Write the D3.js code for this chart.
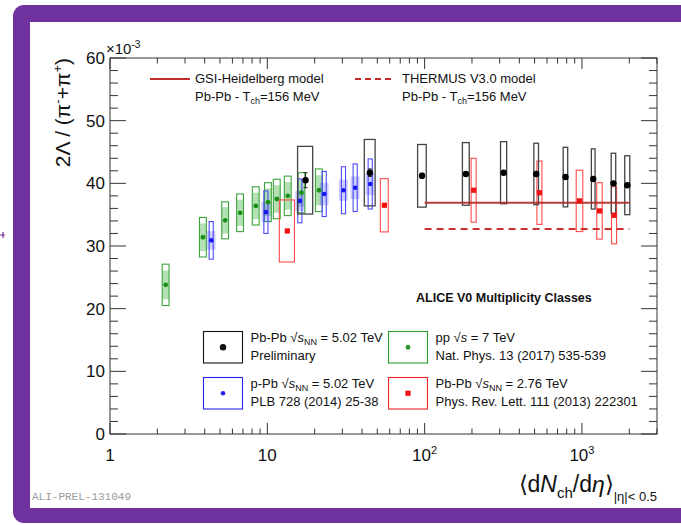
<!DOCTYPE html>
<html lang="en">
<head>
<meta charset="UTF-8">
<title>Lambda / pi ratio vs multiplicity</title>
<style>
  body { margin: 0; padding: 0; background: #fff; }
  svg { display: block; font-family: 'Liberation Sans', Arial, Helvetica, sans-serif; }
</style>
</head>
<body>
<svg id="chart" width="681" height="525"></svg>
<script src="https://d3js.org/d3.v7.min.js"></script>
<script>
// --- data (ratio values in units of 10^-3) ---
// pp 7 TeV, Nat. Phys. 13 (2017) 535
const ppX = [2.26, 3.90, 5.40, 6.72, 8.45, 10.1, 11.5, 13.5, 16.5, 21.3];
const ppY = [23.8, 31.4, 34.1, 35.3, 36.4, 37.0, 37.5, 38.0, 38.5, 38.9];
const ppSys = [3.3, 3.15, 2.95, 3.0, 3.05, 3.1, 3.15, 3.15, 3.2, 3.4];
const ppUnc = [2.3, 2.2, 2.1, 2.1, 2.1, 2.2, 2.2, 2.2, 2.2, 2.4];

// p-Pb 5.02 TeV, PLB 728 (2014) 25
const pPbX = [4.40, 9.80, 16.1, 23.0, 30.5, 36.2, 45.1];
const pPbY = [30.9, 35.4, 37.2, 38.3, 38.9, 39.3, 39.9];
const pPbSys = [3.0, 3.4, 3.5, 3.6, 3.75, 3.8, 4.0];
const pPbUnc = [1.5, 1.6, 1.6, 1.8, 1.7, 1.8, 1.8];

// Pb-Pb 2.76 TeV, PRL 111 (2013) 222301
const pb276X = [13.4, 55.5, 205, 537, 966, 1294, 1601];
const pb276Y = [32.4, 36.5, 38.9, 38.5, 37.2, 35.6, 34.9];
const pb276Sys = [4.95, 4.25, 5.1, 5.05, 4.9, 4.5, 4.55];
const pb276XErr = [0.11, 0.058, 0.037, 0.037, 0.048, 0.04, 0.037];

// Pb-Pb 5.02 TeV preliminary
const pb502X = [17.5, 44.9, 96.3, 183, 318, 512, 786, 1180, 1587, 1943];
const pb502Y = [40.5, 41.7, 41.2, 41.5, 41.7, 41.5, 41.0, 40.7, 40.0, 39.7];
const pb502Sys = [5.4, 5.3, 5.0, 5.0, 4.95, 4.9, 4.75, 4.8, 4.8, 4.7];
const pb502Stat = [1.2, 0.6, 0.4, 0.3, 0.3, 0.3, 0.3, 0.3, 0.3, 0.3];
const pb502XErr = [0.11, 0.079, 0.063, 0.05, 0.045, 0.034, 0.033, 0.027, 0.033, 0.037];

// thermal model values, Pb-Pb T_ch = 156 MeV
const modelRange = [100, 2000];
const gsiValue = 36.9;
const thermusValue = 32.7;

// axis ticks
const xMajor = [1, 10, 100, 1000];
const yMajor = [0, 10, 20, 30, 40, 50, 60];

const svg = d3.select("#chart");

// purple slide frame
svg.append("rect").attr("x", 13).attr("y", 5).attr("width", 700).attr("height", 518)
    .attr("rx", 11).attr("fill", "#70329e");
svg.append("rect").attr("x", 30).attr("y", 22).attr("width", 700).attr("height", 486)
    .attr("fill", "#fff");
svg.append("path").attr("d", "M0,235 L5,235 M3,232 L3,238")
    .attr("stroke", "#70329e").attr("stroke-width", 1.2);

const x = d3.scaleLog().domain([1, 3000]).range([110, 657]);
const y = d3.scaleLinear().domain([0, 60]).range([434, 58]);

const x0 = x.range()[0], x1 = x.range()[1];
const y0 = y.range()[0], y1 = y.range()[1];

// ticks (ROOT style: inside, mirrored on all four sides)
const xMinor = [];
[1, 10, 100, 1000].forEach(d => {
    for (let k = 2; k <= 9; k++) if (d * k <= 3000) xMinor.push(d * k);
});
const yMinor = d3.range(0, 61, 2).filter(v => v % 10 !== 0);

const tickG = svg.append("g").attr("stroke", "#333").attr("stroke-width", 1);
function xTicks(vals, len) {
    vals.forEach(v => {
        tickG.append("line").attr("x1", x(v)).attr("x2", x(v)).attr("y1", y0).attr("y2", y0 - len);
        tickG.append("line").attr("x1", x(v)).attr("x2", x(v)).attr("y1", y1).attr("y2", y1 + len);
    });
}
function yTicks(vals, len) {
    vals.forEach(v => {
        tickG.append("line").attr("x1", x0).attr("x2", x0 + len).attr("y1", y(v)).attr("y2", y(v));
        tickG.append("line").attr("x1", x1).attr("x2", x1 - len).attr("y1", y(v)).attr("y2", y(v));
    });
}
xTicks(xMajor, 11);
xTicks(xMinor, 5.5);
yTicks(yMajor, 16);
yTicks(yMinor, 8);

svg.append("rect").attr("x", x0).attr("y", y1).attr("width", x1 - x0).attr("height", y0 - y1)
    .attr("fill", "none").attr("stroke", "#333").attr("stroke-width", 1);

// tick labels
svg.append("g").selectAll("text").data(yMajor).join("text")
    .attr("x", x0 - 5).attr("y", d => y(d)).attr("dy", "0.36em")
    .attr("text-anchor", "end").attr("font-size", 17).attr("fill", "#111")
    .text(d => d);

const xl = svg.append("g").selectAll("text").data(xMajor).join("text")
    .attr("x", d => x(d)).attr("y", y0 + 27)
    .attr("text-anchor", "middle").attr("font-size", 17).attr("fill", "#111");
xl.each(function(d) {
    const t = d3.select(this);
    if (d < 100) { t.text(d); return; }
    t.append("tspan").text("10");
    t.append("tspan").attr("font-size", 11).attr("dy", -7).text(Math.round(Math.log10(d)));
});

const ex = svg.append("text").attr("x", 106).attr("y", 54).attr("font-size", 15).attr("fill", "#111");
ex.append("tspan").text("\u00d710");
ex.append("tspan").attr("font-size", 10).attr("dy", -6).text("-3");

// axis titles
const yt = svg.append("text").attr("transform", "translate(70,58) rotate(-90)")
    .attr("text-anchor", "end").attr("font-size", 21).attr("fill", "#111");
yt.append("tspan").text("2\u039b / (\u03c0");
yt.append("tspan").attr("font-size", 13).attr("dy", -8).text("-");
yt.append("tspan").attr("dy", 8).text("+\u03c0");
yt.append("tspan").attr("font-size", 13).attr("dy", -8).text("+");
yt.append("tspan").attr("dy", 8).text(")");

const xt = svg.append("text").attr("x", x1).attr("y", 492)
    .attr("text-anchor", "end").attr("font-size", 23).attr("fill", "#111");
xt.append("tspan").text("\u27e8d");
xt.append("tspan").attr("font-style", "italic").text("N");
xt.append("tspan").attr("font-size", 15).attr("dy", 6).text("ch");
xt.append("tspan").attr("dy", -6).text("/d");
xt.append("tspan").attr("font-style", "italic").text("\u03b7");
xt.append("tspan").text("\u27e9");
xt.append("tspan").attr("font-size", 13).attr("dy", 9).text("|\u03b7|< 0.5");

// systematic boxes
const plot = svg.append("g");
function boxes(xs, ys, sys, relW, opts) {
    plot.append("g").selectAll("rect").data(xs).join("rect")
        .attr("x", (d, i) => x(d * (1 - (Array.isArray(relW) ? relW[i] : relW))))
        .attr("width", (d, i) => {
            const e = Array.isArray(relW) ? relW[i] : relW;
            return x(d * (1 + e)) - x(d * (1 - e));
        })
        .attr("y", (d, i) => y(ys[i] + sys[i]))
        .attr("height", (d, i) => y(ys[i] - sys[i]) - y(ys[i] + sys[i]))
        .attr("fill", opts.fill || "none")
        .attr("stroke", opts.stroke || "none")
        .attr("stroke-width", opts.sw || 1);
}

// pp
boxes(ppX, ppY, ppUnc, 0.05, { fill: "rgba(40,170,40,0.35)" });
boxes(ppX, ppY, ppSys, 0.05, { stroke: "#3aa53a", sw: 1.1 });
// p-Pb
boxes(pPbX, pPbY, pPbUnc, 0.065, { fill: "rgba(90,90,255,0.3)" });
boxes(pPbX, pPbY, pPbSys, 0.03, { stroke: "#4a4aff", sw: 1.1 });
// Pb-Pb 2.76
boxes(pb276X, pb276Y, pb276Sys, pb276XErr, { stroke: "#ff4a4a", sw: 1.1 });
// Pb-Pb 5.02
boxes(pb502X, pb502Y, pb502Sys, pb502XErr, { stroke: "#444", sw: 1.3 });

// model lines
plot.append("line").attr("x1", x(modelRange[0])).attr("x2", x(modelRange[1]))
    .attr("y1", y(gsiValue)).attr("y2", y(gsiValue))
    .attr("stroke", "#b22a2a").attr("stroke-width", 2).attr("opacity", 0.9);
plot.append("line").attr("x1", x(modelRange[0])).attr("x2", x(modelRange[1]))
    .attr("y1", y(thermusValue)).attr("y2", y(thermusValue))
    .attr("stroke", "#d03030").attr("stroke-width", 2).attr("stroke-dasharray", "7,5");

// stat error bars for Pb-Pb 5.02
plot.append("g").selectAll("path").data(pb502X).join("path")
    .attr("d", (d, i) => {
        const cx = x(d), ta = y(pb502Y[i] + pb502Stat[i]), tb = y(pb502Y[i] - pb502Stat[i]);
        return `M${cx},${ta}V${tb}M${cx - 2},${ta}H${cx + 2}M${cx - 2},${tb}H${cx + 2}`;
    })
    .attr("stroke", "#222").attr("stroke-width", 1).attr("fill", "none");

// markers
plot.append("g").selectAll("circle").data(ppX).join("circle")
    .attr("cx", d => x(d)).attr("cy", (d, i) => y(ppY[i])).attr("r", 2.4).attr("fill", "#1a8f1a");
plot.append("g").selectAll("circle").data(pPbX).join("circle")
    .attr("cx", d => x(d)).attr("cy", (d, i) => y(pPbY[i])).attr("r", 2.3).attr("fill", "#1515f0");
plot.append("g").selectAll("rect").data(pb276X).join("rect")
    .attr("x", d => x(d) - 2.6).attr("y", (d, i) => y(pb276Y[i]) - 2.6)
    .attr("width", 5.2).attr("height", 5.2).attr("fill", "#ee1111");
plot.append("g").selectAll("circle").data(pb502X).join("circle")
    .attr("cx", d => x(d)).attr("cy", (d, i) => y(pb502Y[i])).attr("r", 3.2).attr("fill", "#000");

// model legend
function modelLegend(lx, tx, dash, title) {
    svg.append("line").attr("x1", lx).attr("x2", lx + 40).attr("y1", 79).attr("y2", 79)
        .attr("stroke", "#c02c2c").attr("stroke-width", 2).attr("stroke-dasharray", dash);
    svg.append("text").attr("x", tx).attr("y", 83).attr("font-size", 13).attr("fill", "#111").text(title);
    const t = svg.append("text").attr("x", tx).attr("y", 101).attr("font-size", 13).attr("fill", "#111");
    t.append("tspan").text("Pb-Pb - T");
    t.append("tspan").attr("font-size", 9).attr("dy", 3).text("ch");
    t.append("tspan").attr("dy", -3).text("=156 MeV");
}
modelLegend(150, 195, null, "GSI-Heidelberg model");
modelLegend(355, 402, "6,4", "THERMUS V3.0 model");

svg.append("text").attr("x", 416).attr("y", 302).attr("font-size", 12.5)
    .attr("font-weight", "bold").attr("fill", "#111").text("ALICE V0 Multiplicity Classes");

// data legend
function sqrtS(t, pre, nn, post) {
    t.append("tspan").text(pre + " \u221a");
    t.append("tspan").attr("font-style", "italic").text("s");
    if (nn) t.append("tspan").attr("font-size", 9).attr("dy", 3).text("NN");
    t.append("tspan").attr("dy", nn ? -3 : 0).text(post);
}
function legendEntry(bx, by, color, marker, l1, l2) {
    svg.append("rect").attr("x", bx).attr("y", by).attr("width", 39).attr("height", 31.5)
        .attr("fill", "none").attr("stroke", color).attr("stroke-width", 1.1);
    const cx = bx + 19.5, cy = by + 15.75;
    if (marker === "square") {
        svg.append("rect").attr("x", cx - 2.6).attr("y", cy - 2.6).attr("width", 5.2).attr("height", 5.2).attr("fill", "#ee1111");
    } else {
        svg.append("circle").attr("cx", cx).attr("cy", cy).attr("r", marker).attr("fill", color);
    }
    const t1 = svg.append("text").attr("x", bx + 47).attr("y", by + 10).attr("font-size", 13).attr("fill", "#111");
    l1(t1);
    svg.append("text").attr("x", bx + 47).attr("y", by + 28.5).attr("font-size", 13).attr("fill", "#111").text(l2);
}
legendEntry(203.5, 331.5, "#111", 3.2, t => sqrtS(t, "Pb-Pb", true, " = 5.02 TeV"), "Preliminary");
legendEntry(388.5, 331.5, "#2a9a2a", 2.4, t => sqrtS(t, "pp", false, " = 7 TeV"), "Nat. Phys. 13 (2017) 535-539");
legendEntry(203.5, 377.5, "#2424f0", 2.3, t => sqrtS(t, "p-Pb", true, " = 5.02 TeV"), "PLB 728 (2014) 25-38");
legendEntry(388.5, 377.5, "#ee2222", "square", t => sqrtS(t, "Pb-Pb", true, " = 2.76 TeV"), "Phys. Rev. Lett. 111 (2013) 222301");

svg.append("text").attr("x", 32).attr("y", 500).attr("font-size", 11)
    .attr("font-family", "'Liberation Mono', 'DejaVu Sans Mono', monospace")
    .attr("fill", "#9a9a9a").text("ALI-PREL-131049");
</script>
</body>
</html>
